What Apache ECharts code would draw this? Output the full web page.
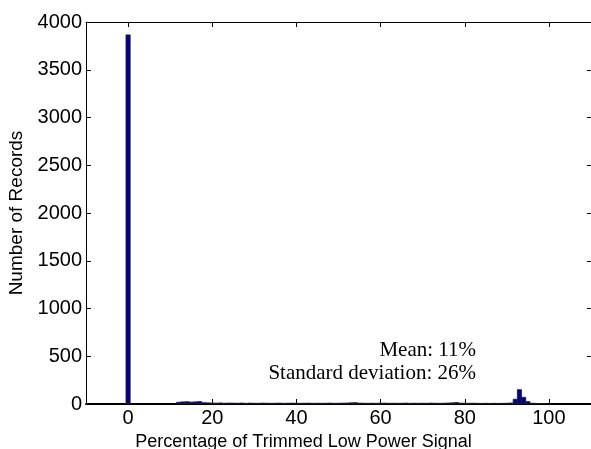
<!DOCTYPE html>
<html>
<head>
<meta charset="utf-8">
<script src="https://cdn.jsdelivr.net/npm/echarts@6/dist/echarts.min.js"></script>
<style>
html,body{margin:0;padding:0;background:#fff;}
#chart{width:591px;height:449px;}
</style>
</head>
<body>
<div id="chart"></div>
<script>
// Histogram bin centres (percentage) and record counts, bin width 1
var binCenters = [];
for (var i = 0; i < 100; i++) binCenters.push(i);
var counts = [
  3865, 0, 0, 0, 0, 0, 0, 0, 0, 0,
  0, 0, 18, 22, 24, 20, 22, 25, 14, 12,
  10, 9, 11, 8, 10, 9, 8, 10, 7, 9,
  8, 7, 9, 8, 7, 8, 9, 7, 8, 9,
  8, 7, 8, 9, 7, 8, 7, 8, 9, 7,
  8, 9, 10, 12, 14, 9, 8, 7, 8, 7,
  8, 9, 7, 8, 7, 8, 9, 7, 8, 7,
  8, 7, 9, 8, 7, 8, 10, 12, 16, 9,
  8, 7, 8, 7, 6, 7, 6, 7, 6, 7,
  8, 10, 50, 150, 70, 25, 8, 6, 5, 3
];
var xTicks = [0, 20, 40, 60, 80, 100];
var yTicks = [0, 500, 1000, 1500, 2000, 2500, 3000, 3500, 4000];
var statLines = ['Mean: 11%', 'Standard deviation: 26%'];

var binWidth = 1;
var histData = binCenters.map(function (c, i) {
  return [c - binWidth / 2, c + binWidth / 2, counts[i]];
});

var chart = echarts.init(document.getElementById('chart'));
var plainNum = function (v) { return String(v); };
var tickFont = {color: '#000', fontFamily: 'Liberation Sans, Arial, sans-serif', fontSize: 20, formatter: plainNum};
var option = {
  animation: false,
  grid: {left: 86, right: 0, top: 22, bottom: 45, containLabel: false, outerBoundsMode: 'none'},
  xAxis: [{
    type: 'value', min: -10, max: 110, position: 'bottom',
    name: 'Percentage of Trimmed Low Power Signal',
    nameLocation: 'middle', nameGap: 27,
    nameTextStyle: {color: '#000', fontFamily: 'Liberation Sans, Arial, sans-serif', fontSize: 18, padding: [0, 70, 0, 0]},
    axisLine: {show: true, onZero: false, lineStyle: {color: '#000', width: 2}},
    axisTick: {show: true, inside: true, length: 5, customValues: xTicks, lineStyle: {color: '#000'}},
    axisLabel: Object.assign({margin: 4, customValues: xTicks}, tickFont),
    splitLine: {show: false}
  }, {
    type: 'value', min: -10, max: 110, position: 'top',
    axisLine: {show: true, onZero: false, lineStyle: {color: '#000', width: 1}},
    axisTick: {show: true, inside: true, length: 5, customValues: xTicks, lineStyle: {color: '#000'}},
    axisLabel: {show: false},
    splitLine: {show: false}
  }],
  yAxis: [{
    type: 'value', min: 0, max: 4000, interval: 500, position: 'left',
    name: 'Number of Records', nameLocation: 'middle', nameGap: 60, nameRotate: 90,
    nameTextStyle: {color: '#000', fontFamily: 'Liberation Sans, Arial, sans-serif', fontSize: 19},
    axisLine: {show: true, onZero: false, lineStyle: {color: '#000', width: 1}},
    axisTick: {show: true, inside: true, length: 5, lineStyle: {color: '#000'}},
    axisLabel: Object.assign({margin: 4}, tickFont),
    splitLine: {show: false}
  }, {
    type: 'value', min: 0, max: 4000, interval: 500, position: 'right',
    axisLine: {show: true, onZero: false, lineStyle: {color: '#000', width: 1}},
    axisTick: {show: true, inside: true, length: 4, lineStyle: {color: '#000'}},
    axisLabel: {show: false},
    splitLine: {show: false}
  }],
  series: [{
    type: 'custom',
    xAxisIndex: 0, yAxisIndex: 0,
    clip: true,
    data: histData,
    encode: {x: [0, 1], y: 2},
    renderItem: function (params, api) {
      var h = api.value(2);
      if (!h) return null;
      var p0 = api.coord([api.value(0), h]);
      var p1 = api.coord([api.value(1), 0]);
      return {
        type: 'rect',
        shape: {x: p0[0], y: p0[1], width: p1[0] - p0[0], height: p1[1] - p0[1]},
        style: {fill: '#00008f', stroke: '#222', lineWidth: 0.8}
      };
    }
  }],
  graphic: [{
    type: 'text', right: 591 - 476, top: 340,
    style: {text: statLines[0], fill: '#000', font: '21px "Liberation Serif", "Times New Roman", serif', textAlign: 'right'}
  }, {
    type: 'text', right: 591 - 476, top: 363,
    style: {text: statLines[1], fill: '#000', font: '21px "Liberation Serif", "Times New Roman", serif', textAlign: 'right'}
  }]
};
chart.setOption(option);
</script>
</body>
</html>
